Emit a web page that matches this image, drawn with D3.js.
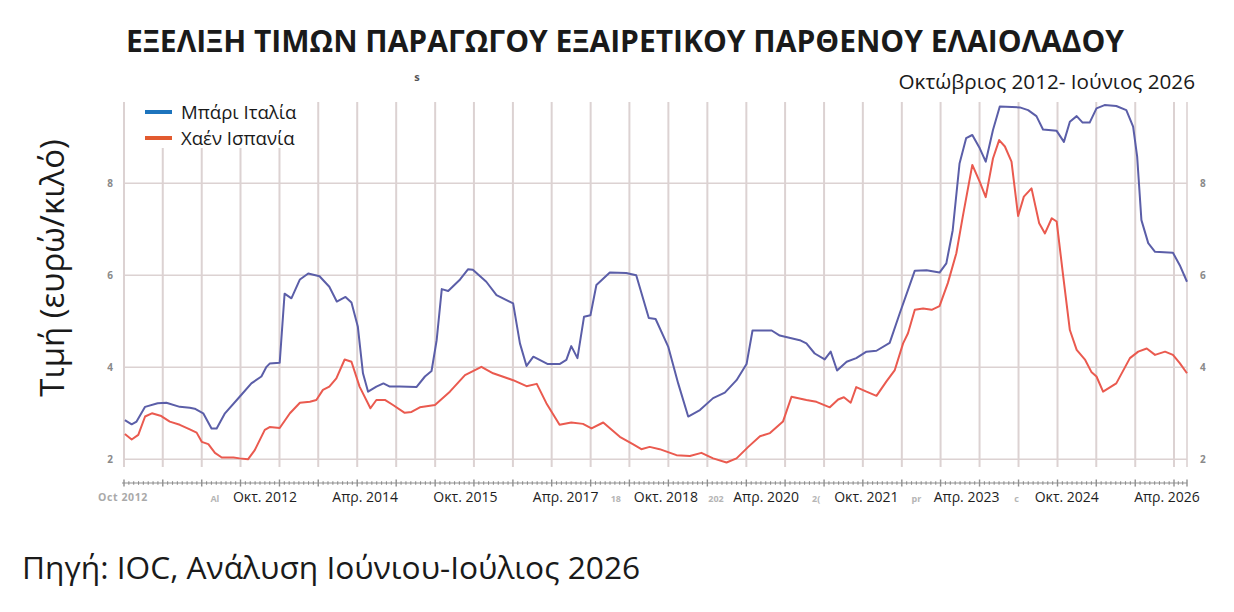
<!DOCTYPE html>
<html><head><meta charset="utf-8">
<script src="https://cdn.jsdelivr.net/npm/d3@7"></script>
<style>
body{margin:0;background:#fff}
svg{display:block}
text{font-family:"Open Sans","Noto Sans",sans-serif}
</style>
</head><body>
<svg id="c" width="1234" height="612"></svg>
<script>
// ---------------- DATA ----------------
const seriesNames = ["Μπάρι Ιταλία", "Χαέν Ισπανία"];

const bariDates = ["2012-10-05","2012-11-06","2012-11-29","2013-01-08","2013-03-08","2013-04-18","2013-06-20","2013-08-06","2013-08-29","2013-10-08","2013-11-16","2013-12-10","2014-01-18","2014-03-28","2014-05-22","2014-07-08","2014-08-01","2014-08-16","2014-10-02","2014-10-25","2014-11-26","2015-01-05","2015-02-13","2015-04-07","2015-05-23","2015-06-27","2015-08-07","2015-09-04","2015-10-04","2015-10-28","2015-11-21","2015-12-30","2016-02-01","2016-03-02","2016-04-17","2016-07-05","2016-08-14","2016-09-14","2016-10-08","2016-11-01","2016-12-01","2017-01-26","2017-03-04","2017-03-27","2017-05-29","2017-07-16","2017-10-02","2017-11-03","2017-12-04","2018-01-05","2018-03-14","2018-05-08","2018-06-09","2018-07-02","2018-07-31","2018-08-31","2018-09-30","2018-10-28","2018-12-30","2019-03-17","2019-05-03","2019-07-01","2019-08-02","2019-09-30","2019-11-16","2020-01-02","2020-02-26","2020-04-28","2020-06-22","2020-08-16","2020-10-02","2020-10-30","2021-01-28","2021-03-07","2021-06-09","2021-07-10","2021-08-18","2021-10-04","2021-11-01","2021-12-01","2022-01-15","2022-03-01","2022-04-18","2022-06-04","2022-08-05","2022-09-21","2022-12-01","2023-01-25","2023-03-27","2023-04-28","2023-05-28","2023-06-29","2023-07-30","2023-08-28","2023-10-02","2023-10-30","2023-12-03","2024-01-04","2024-04-07","2024-05-16","2024-06-24","2024-07-25","2024-09-27","2024-10-31","2024-11-28","2024-12-30","2025-01-27","2025-03-01","2025-04-02","2025-05-10","2025-07-04","2025-08-20","2025-09-21","2025-10-10","2025-10-30","2025-12-01","2026-01-02","2026-03-27","2026-04-28","2026-06-01"];
const bariValues = [2.85,2.76,2.82,3.14,3.22,3.23,3.14,3.12,3.10,3.00,2.67,2.67,3.00,3.36,3.65,3.80,4.01,4.08,4.10,5.60,5.50,5.91,6.04,5.98,5.75,5.43,5.53,5.41,4.88,3.87,3.47,3.58,3.65,3.58,3.58,3.57,3.80,3.92,4.59,5.70,5.66,5.91,6.13,6.12,5.86,5.57,5.39,4.52,4.03,4.23,4.07,4.07,4.16,4.46,4.20,5.10,5.13,5.79,6.06,6.05,6.00,5.07,5.05,4.45,3.65,2.93,3.07,3.33,3.45,3.72,4.07,4.80,4.80,4.69,4.59,4.52,4.30,4.17,4.34,3.93,4.12,4.20,4.34,4.36,4.53,5.17,6.10,6.11,6.06,6.26,6.98,8.43,8.98,9.05,8.76,8.47,9.16,9.67,9.65,9.59,9.46,9.17,9.14,8.90,9.34,9.46,9.32,9.32,9.63,9.70,9.68,9.59,9.23,8.58,7.20,6.70,6.51,6.49,6.22,5.86];

const jaenDates = ["2012-10-05","2012-11-06","2012-12-07","2013-01-08","2013-02-09","2013-03-25","2013-05-04","2013-06-20","2013-08-06","2013-09-07","2013-10-01","2013-11-01","2013-12-02","2014-01-03","2014-02-27","2014-03-28","2014-05-06","2014-06-07","2014-07-24","2014-08-16","2014-10-02","2014-11-19","2015-01-05","2015-02-21","2015-03-23","2015-04-23","2015-05-23","2015-06-25","2015-08-03","2015-09-04","2015-10-12","2015-12-02","2015-12-30","2016-02-08","2016-03-17","2016-05-11","2016-06-12","2016-07-21","2016-09-30","2016-12-09","2017-02-18","2017-05-06","2017-06-30","2017-10-02","2017-12-04","2018-01-21","2018-03-07","2018-05-08","2018-07-02","2018-08-26","2018-10-05","2018-11-29","2019-02-15","2019-04-17","2019-05-27","2019-07-05","2019-08-21","2019-11-08","2020-01-10","2020-03-04","2020-04-28","2020-06-30","2020-08-16","2020-10-10","2020-12-04","2021-01-20","2021-03-22","2021-05-01","2021-07-10","2021-08-26","2021-10-28","2021-12-06","2022-01-02","2022-02-03","2022-03-01","2022-04-18","2022-06-04","2022-07-20","2022-08-29","2022-10-07","2022-10-30","2022-12-01","2023-01-09","2023-02-18","2023-03-27","2023-05-05","2023-06-14","2023-07-14","2023-08-28","2023-10-02","2023-10-30","2023-12-03","2024-01-01","2024-01-28","2024-02-28","2024-03-30","2024-04-26","2024-06-01","2024-07-07","2024-08-03","2024-09-04","2024-09-27","2024-10-28","2024-11-28","2024-12-30","2025-02-08","2025-03-09","2025-04-02","2025-05-03","2025-07-04","2025-09-06","2025-10-15","2025-11-24","2026-01-02","2026-02-18","2026-03-27","2026-04-28","2026-06-01"];
const jaenValues = [2.55,2.43,2.53,2.93,3.00,2.94,2.82,2.75,2.65,2.58,2.38,2.33,2.14,2.04,2.04,2.02,2.00,2.20,2.64,2.70,2.68,3.00,3.23,3.25,3.29,3.51,3.58,3.76,4.17,4.12,3.58,3.11,3.29,3.29,3.18,3.01,3.03,3.13,3.18,3.47,3.83,4.01,3.87,3.72,3.59,3.64,3.22,2.75,2.80,2.77,2.67,2.80,2.49,2.33,2.22,2.27,2.22,2.09,2.07,2.14,2.02,1.93,2.02,2.27,2.50,2.57,2.82,3.36,3.29,3.25,3.13,3.30,3.35,3.23,3.57,3.47,3.38,3.69,3.94,4.52,4.74,5.25,5.28,5.25,5.33,5.83,6.48,7.27,8.40,8.03,7.70,8.54,8.94,8.80,8.47,7.29,7.71,7.89,7.13,6.91,7.24,7.17,5.97,4.81,4.38,4.16,3.90,3.80,3.47,3.65,4.20,4.34,4.41,4.27,4.34,4.27,4.09,3.87];

const yTicks = [2, 4, 6, 8];
const xLabels = ["Οκτ. 2012","Απρ. 2014","Οκτ. 2015","Απρ. 2017","Οκτ. 2018","Απρ. 2020","Οκτ. 2021","Απρ. 2023","Οκτ. 2024","Απρ. 2026"];
const strayLabels = [[-1,"Al"],[3,"18"],[4,"202"],[5,"2("],[6,"pr"],[7,"c"]];

const titleText = "ΕΞΕΛΙΞΗ ΤΙΜΩΝ ΠΑΡΑΓΩΓΟΥ ΕΞΑΙΡΕΤΙΚΟΥ ΠΑΡΘΕΝΟΥ ΕΛΑΙΟΛΑΔΟΥ";
const periodText = "Οκτώβριος 2012- Ιούνιος 2026";
const yTitle = "Τιμή (ευρώ/κιλό)";
const sourceText = "Πηγή: IOC, Ανάλυση Ιούνιου-Ιούλιος 2026";

// ---------------- CHART ----------------
const svg = d3.select("#c");
const parse = d3.timeParse("%Y-%m-%d");
const start = parse("2012-10-01"), end = parse("2026-06-01");

const plot = {left:124, right:1187, top:102, bottom:467};
const x = d3.scaleTime().domain([start, end]).range([plot.left, plot.right]);
const y = d3.scaleLinear().domain([2, 8]).range([459.3, 183.3]);

const gridColor = "#dcd2d2";
// horizontal grid
svg.append("g").selectAll("line").data(yTicks).join("line")
  .attr("x1", plot.left).attr("x2", plot.right)
  .attr("y1", d => y(d)).attr("y2", d => y(d))
  .attr("stroke", gridColor).attr("stroke-width", 1.6);

// vertical grid every 6 months
const majors = d3.timeMonth.range(start, parse("2026-05-01"), 6);
svg.append("g").selectAll("line").data(majors).join("line")
  .attr("x1", d => x(d)).attr("x2", d => x(d))
  .attr("y1", plot.top).attr("y2", plot.bottom)
  .attr("stroke", gridColor).attr("stroke-width", 2);
// right border
svg.append("line").attr("x1", x(end)).attr("x2", x(end))
  .attr("y1", plot.top).attr("y2", plot.bottom)
  .attr("stroke", gridColor).attr("stroke-width", 1.6);

// y tick labels left and right
const tl = svg.append("g").attr("font-size", 10).attr("font-weight", "bold").attr("fill", "#8a8a8a");
tl.selectAll(".l").data(yTicks).join("text").attr("class","l")
  .attr("x", plot.left - 11).attr("y", d => y(d) + 3.5).attr("text-anchor","end").text(d => d);
tl.selectAll(".r").data(yTicks).join("text").attr("class","r")
  .attr("x", plot.right + 13).attr("y", d => y(d) + 3.5).attr("text-anchor","start").text(d => d);

// bottom axis with major/minor ticks
const axisY = 483;
const ax = svg.append("g").attr("stroke", "#8f8f8f");
ax.append("line").attr("x1", plot.left - 2).attr("x2", plot.right).attr("y1", axisY).attr("y2", axisY).attr("stroke-width", 1);
const majorX = majors.map(d => x(d)).concat([x(end)]);
const minorX = [];
for (let i = 0; i < majorX.length - 1; i++) {
  const a = majorX[i], b = majorX[i+1];
  const n = i === majorX.length - 2 ? 3 : 8;
  d3.range(1, n).forEach(k => minorX.push(a + (b - a) * k / n));
}
ax.selectAll(".mj").data(majorX).join("line").attr("class","mj")
  .attr("x1", d => d).attr("x2", d => d).attr("y1", axisY - 3.5).attr("y2", axisY + 3.5).attr("stroke-width", 1.4);
ax.selectAll(".mn").data(minorX).join("line").attr("class","mn")
  .attr("x1", d => d).attr("x2", d => d).attr("y1", axisY - 1.8).attr("y2", axisY + 1.8).attr("stroke-width", 1.1);

// x labels
const lx = d3.scalePoint().domain(xLabels).range([265, 1167]);
svg.append("g").selectAll("text").data(xLabels).join("text")
  .attr("x", d => lx(d)).attr("y", 502).attr("text-anchor","middle")
  .attr("font-size", 14).attr("fill", "#1e1e1e").text(d => d);
const step = lx.step();
svg.append("g").selectAll("text").data(strayLabels).join("text")
  .attr("x", d => lx(xLabels[0]) + step * (d[0] + 0.5)).attr("y", 502).attr("text-anchor","middle")
  .attr("font-size", 9).attr("font-weight","bold").attr("fill", "#b5b5b5").text(d => d[1]);
svg.append("text").attr("x", 123).attr("y", 501).attr("text-anchor","middle")
  .attr("font-size", 10.5).attr("font-weight","bold").attr("fill", "#a9a9a9").attr("letter-spacing", 0.6).text("Oct 2012");
svg.append("text").attr("x", 417).attr("y", 81).attr("text-anchor","middle")
  .attr("font-size", 11).attr("font-weight","bold").attr("fill", "#555").text("s");

// lines
const line = d3.line().x(d => x(d.date)).y(d => y(d.v));
const bari = bariDates.map((d, i) => ({date: parse(d), v: bariValues[i]}));
const jaen = jaenDates.map((d, i) => ({date: parse(d), v: jaenValues[i]}));
svg.append("path").datum(bari).attr("d", line).attr("fill","none")
  .attr("stroke", "#5b5ea8").attr("stroke-width", 2).attr("stroke-linejoin","round");
svg.append("path").datum(jaen).attr("d", line).attr("fill","none")
  .attr("stroke", "#ea5a4f").attr("stroke-width", 2).attr("stroke-linejoin","round");

// legend
svg.append("rect").attr("x", 128).attr("y", 100).attr("width", 188).attr("height", 48).attr("fill", "#fff");
const legColors = ["#1d74bd", "#e25a2f"];
const lg = svg.append("g").selectAll("g").data(seriesNames).join("g")
  .attr("transform", (d, i) => `translate(0,${112 + i * 26})`);
lg.append("line").attr("x1", 145).attr("x2", 172).attr("y1", 0).attr("y2", 0)
  .attr("stroke", (d, i) => legColors[i]).attr("stroke-width", 4);
lg.append("text").attr("x", 181).attr("y", 6.5).attr("font-size", 18.6).attr("fill", "#1a1a1a").text(d => d);

// titles
svg.append("text").attr("x", 625).attr("y", 52).attr("text-anchor","middle")
  .attr("font-size", 30).attr("font-weight", "bold").attr("fill", "#1a1a1a").text(titleText);
svg.append("text").attr("x", 1195).attr("y", 89).attr("text-anchor","end")
  .attr("font-size", 20.7).attr("fill", "#1a1a1a").text(periodText);
svg.append("text").attr("transform", "translate(64,268) rotate(-90)").attr("text-anchor","middle")
  .attr("font-size", 33).attr("fill", "#1a1a1a").text(yTitle);
svg.append("text").attr("x", 22).attr("y", 579)
  .attr("font-size", 31.7).attr("fill", "#1a1a1a").text(sourceText);
</script>
</body></html>
